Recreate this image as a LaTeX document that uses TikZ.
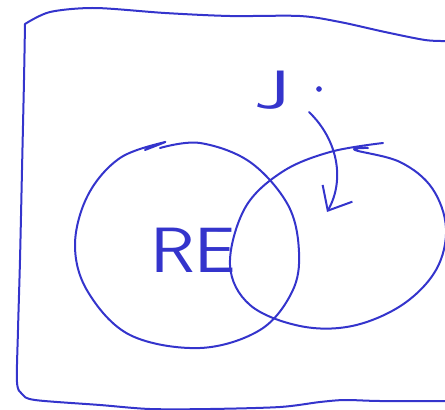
\documentclass[tikz,border=0pt]{standalone}
\usepackage{tikz}
\usetikzlibrary{arrows.meta, positioning, calc}
\definecolor{penBlue}{RGB}{52,52,204}

\begin{document}
\begin{tikzpicture}[
  x=1pt, y=-1pt,
  pen/.style={draw=penBlue, line width=2pt, line cap=round, line join=round},
  scrawl/.style={text=penBlue, font=\sffamily\fontsize{64}{64}\selectfont, inner sep=0pt},
  flick/.style={pen, -{Straight Barb[length=7mm, width=12mm]}}
]
  \useasboundingbox (0,0) rectangle (445,410);

  % Frame
  \draw[pen] plot[smooth, tension=0.5] coordinates {(446,41) (425,40) (385,32) (340,22) (300,16) (230,16) (165,13) (95,8) (50,12) (25,24)};
  \draw[pen] plot[smooth, tension=0.5] coordinates {(25,24) (24,80) (22,170) (20,260) (18,330) (17,382) (22,394) (35,400) (100,405) (150,409) (210,409) (280,407) (320,402) (345,400) (380,401) (446,401)};

  % Sets
  \draw[pen] plot[smooth, tension=0.6] coordinates {(145,150) (165,142) (120,158) (88,195) (75,245) (88,292) (130,335) (200,348) (260,330) (292,292) (299,252) (288,205) (250,162) (200,143) (160,148)};
  \draw[pen] plot[smooth, tension=0.6] coordinates {(383,143) (330,152) (282,172) (245,208) (230,265) (250,305) (300,326) (352,326) (402,305) (436,270) (446,228) (432,188) (400,162) (355,150) (368,148)};

  % Labels
  \node[scrawl, xscale=1.15] (re) at (193,250) {RE};
  \node[scrawl, font=\sffamily\fontsize{54}{54}\selectfont, xscale=1.5] (j) at (272,90) {J};
  \node[circle, fill=penBlue, inner sep=2pt] (dot) at (319,89) {};

  % Pointer
  \coordinate (tail) at (309,112);
  \coordinate (head) at (327,212);
  \draw[flick] (tail) .. controls (338,140) and (345,180) .. (head);
\end{tikzpicture}
\end{document}
